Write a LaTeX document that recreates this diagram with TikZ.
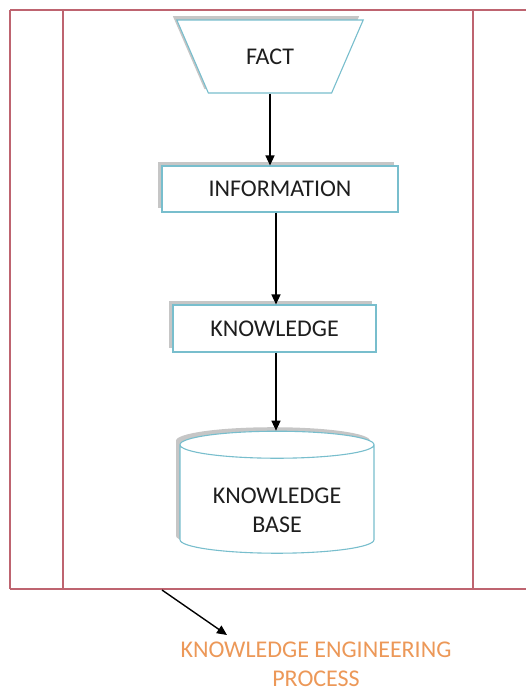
\documentclass[tikz,border=0pt]{standalone}
\usepackage{fontspec}
\setmainfont{Carlito}
\usepackage{xcolor}
\usepackage{tikz}
\usetikzlibrary{arrows.meta,shapes.geometric,shadows,positioning,calc}

\definecolor{framered}{RGB}{190,100,112}
\definecolor{boxteal}{RGB}{120,190,205}
\definecolor{labelorange}{RGB}{236,152,88}
\definecolor{textgray}{RGB}{30,30,30}

\begin{document}
\begin{tikzpicture}[
			x=1pt, y=-1pt,
			every node/.style={font=\fontsize{24}{29}\selectfont, text=textgray, align=center},
			boxstyle/.style={draw=boxteal, line width=1.1pt, fill=white,
					general shadow={shadow xshift=-4pt, shadow yshift=4pt, fill=gray!45}},
			flowarrow/.style={-{Triangle[length=10pt,width=9pt]}, line width=1.4pt, black},
			frameline/.style={draw=framered, line width=1.2pt}
		]
		\useasboundingbox (0,0) rectangle (526,691);

		\draw[frameline] (10,10) -- (526,10);
		\draw[frameline] (10,589) -- (526,589);
		\draw[frameline] (10,10) -- (10,589);
		\draw[frameline] (63,10) -- (63,589);
		\draw[frameline] (473,10) -- (473,589);

		\node[boxstyle, trapezium, trapezium angle=58, shape border rotate=180,
			trapezium stretches=true, minimum width=188pt, minimum height=73pt] (fact) at (270,56.5) {FACT};
		\node[boxstyle, minimum width=236pt, minimum height=46pt] (info) at (280,189) {INFORMATION};
		\node[boxstyle, minimum width=203pt, minimum height=47pt] (know) at (274.5,328.5) {KNOWLEDGE};
		\node[boxstyle, cylinder, shape border rotate=90, aspect=0.2,
			minimum width=194pt, minimum height=122pt] (kb) at (277,501)
		{\rule{0pt}{35pt}KNOWLEDGE\\BASE};

		\node[text=labelorange, inner sep=0pt] (process) at (316,664) {KNOWLEDGE ENGINEERING\\PROCESS};
		\coordinate (src) at (162,590);
		\coordinate (tip) at (227,635);

		\draw[flowarrow] (fact.south) -- (fact.south |- info.north);
		\draw[flowarrow] ([xshift=-4pt]info.south) -- ([xshift=-4pt]info.south |- know.north);
		\draw[flowarrow] ([xshift=1.5pt]know.south) -- ([xshift=1.5pt]know.south |- kb.north);
		\draw[flowarrow] (src) -- (tip);
	\end{tikzpicture}
\end{document}
